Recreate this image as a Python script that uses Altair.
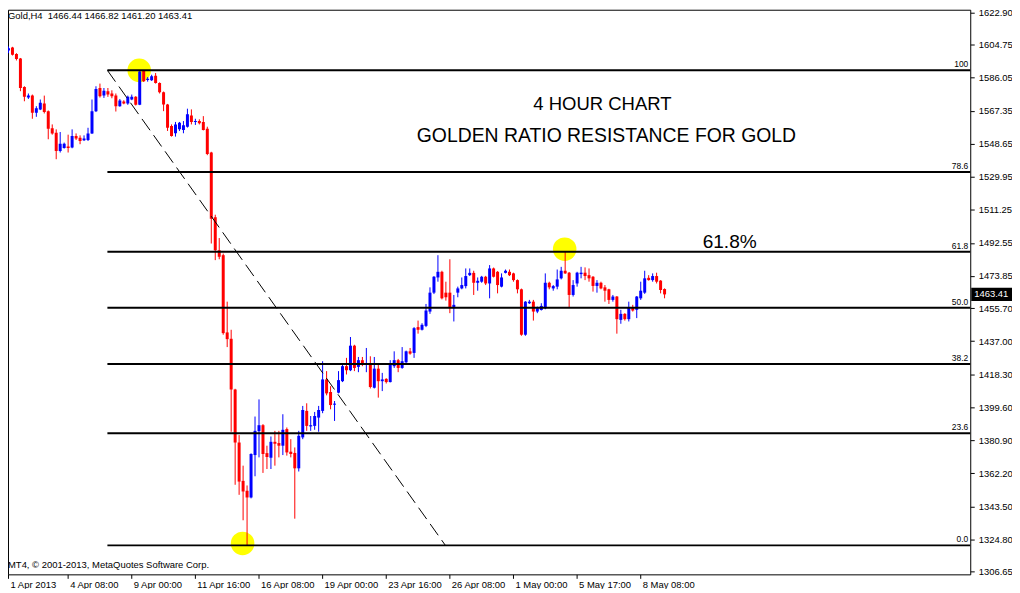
import altair as alt
import pandas as pd

# ---------------- data ----------------
opens = [
    1597.7, 1601.4, 1603.1, 1599.4, 1596.9, 1580.8, 1574.8, 1575.9, 1566.2, 1568.1,
    1571.4, 1567.1, 1557.5, 1554.9, 1544.6, 1546.3, 1547.1, 1546.5, 1553.1, 1552.1,
    1550.6, 1550.8, 1554.5, 1567.1, 1580.2, 1575.9, 1578.4, 1577.1, 1575.9, 1569.9,
    1572.5, 1571.4, 1573.7, 1575.2, 1570.7, 1589.8, 1584.7, 1584.6, 1587.2, 1583.1,
    1577.8, 1570.9, 1558.7, 1554.6, 1556.8, 1556.5, 1558.3, 1564.7, 1561.0, 1561.5,
    1561.0, 1557.2, 1543.7, 1507.1, 1488.4, 1485.6, 1441.9, 1438.3, 1409.6, 1379.6,
    1357.9, 1352.3, 1348.5, 1372.5, 1386.0, 1389.4, 1373.6, 1371.0, 1380.0, 1379.3,
    1377.8, 1387.2, 1374.4, 1373.7, 1365.0, 1382.5, 1397.5, 1388.7, 1389.0, 1393.7,
    1397.5, 1415.3, 1408.2, 1401.0, 1407.8, 1414.3, 1422.8, 1420.5, 1434.4, 1422.4,
    1426.2, 1423.7, 1424.6, 1410.6, 1421.4, 1414.3, 1415.6, 1413.8, 1422.8, 1426.2,
    1421.8, 1425.0, 1431.2, 1430.3, 1444.9, 1443.4, 1445.6, 1453.7, 1464.4, 1473.0,
    1476.2, 1464.4, 1464.4, 1455.6, 1464.4, 1466.8, 1468.1, 1474.3, 1475.6, 1470.0,
    1470.6, 1473.4, 1469.6, 1478.1, 1476.2, 1467.8, 1475.6, 1476.2, 1475.3, 1471.5,
    1466.3, 1440.6, 1458.4, 1459.3, 1453.7, 1454.6, 1455.6, 1470.0, 1466.8, 1467.8,
    1472.5, 1476.8, 1475.7, 1463.1, 1469.6, 1474.9, 1475.7, 1474.3, 1473.4, 1468.2,
    1470.0, 1467.4, 1466.3, 1460.3, 1462.2, 1449.0, 1452.4, 1449.4, 1456.2, 1454.7,
    1461.2, 1464.4, 1472.8, 1471.5, 1473.8, 1471.2, 1466.44,
]
highs = [
    1602.2, 1603.7, 1603.5, 1599.9, 1597.2, 1581.2, 1577.1, 1576.5, 1569.9, 1573.7,
    1575.9, 1567.5, 1559.6, 1556.8, 1555.3, 1549.3, 1553.8, 1556.8, 1554.5, 1553.4,
    1553.4, 1557.7, 1573.7, 1581.2, 1582.7, 1580.2, 1580.2, 1578.9, 1577.1, 1574.0,
    1573.3, 1575.9, 1576.5, 1575.6, 1590.2, 1590.2, 1586.4, 1587.7, 1588.7, 1583.4,
    1578.2, 1571.2, 1559.6, 1561.0, 1561.0, 1561.5, 1568.5, 1568.1, 1562.8, 1562.5,
    1564.3, 1558.3, 1544.1, 1508.5, 1495.3, 1486.5, 1459.3, 1443.4, 1410.0, 1383.8,
    1366.5, 1355.3, 1373.5, 1394.3, 1404.0, 1390.0, 1377.8, 1383.0, 1386.2, 1386.2,
    1395.6, 1388.1, 1381.5, 1376.8, 1386.2, 1400.3, 1401.8, 1394.6, 1396.9, 1400.3,
    1425.6, 1420.0, 1411.5, 1403.1, 1420.0, 1423.7, 1427.5, 1439.3, 1434.9, 1428.0,
    1428.0, 1433.1, 1428.4, 1428.0, 1424.6, 1419.0, 1416.0, 1426.2, 1431.2, 1426.9,
    1433.6, 1431.6, 1433.1, 1444.9, 1448.6, 1447.1, 1458.0, 1467.4, 1473.8, 1485.6,
    1476.8, 1470.6, 1483.3, 1463.1, 1467.8, 1473.0, 1478.1, 1478.1, 1476.8, 1473.0,
    1473.9, 1473.9, 1480.0, 1478.6, 1476.6, 1475.3, 1477.5, 1477.5, 1475.7, 1471.9,
    1466.7, 1459.6, 1460.3, 1460.3, 1456.5, 1458.4, 1475.3, 1470.6, 1468.7, 1477.5,
    1479.0, 1487.8, 1476.1, 1471.5, 1476.2, 1479.0, 1478.7, 1478.1, 1473.8, 1471.5,
    1470.6, 1468.7, 1466.6, 1463.1, 1462.5, 1454.7, 1452.8, 1459.3, 1457.5, 1462.5,
    1470.6, 1476.8, 1474.3, 1475.3, 1475.7, 1471.5, 1466.82,
]
lows = [
    1597.0, 1599.9, 1598.6, 1595.8, 1578.4, 1572.7, 1574.0, 1562.8, 1563.9, 1567.7,
    1565.8, 1551.2, 1553.8, 1539.9, 1543.7, 1545.9, 1543.7, 1546.1, 1550.8, 1548.4,
    1550.2, 1550.2, 1554.2, 1566.6, 1574.8, 1574.6, 1575.2, 1574.4, 1566.9, 1569.6,
    1571.0, 1570.7, 1573.3, 1570.3, 1570.5, 1583.6, 1583.8, 1584.2, 1582.7, 1577.1,
    1567.1, 1555.9, 1552.7, 1552.7, 1555.9, 1554.6, 1557.8, 1559.6, 1559.3, 1559.6,
    1556.2, 1542.2, 1492.2, 1482.8, 1483.3, 1440.6, 1433.6, 1385.7, 1355.7, 1350.0,
    1335.6, 1321.4, 1348.0, 1360.5, 1371.2, 1362.4, 1364.6, 1364.6, 1366.5, 1371.2,
    1372.5, 1372.2, 1371.2, 1336.5, 1363.2, 1381.5, 1386.2, 1386.2, 1386.8, 1385.7,
    1396.2, 1406.3, 1398.4, 1391.8, 1407.4, 1413.8, 1418.1, 1420.0, 1420.0, 1419.4,
    1422.8, 1419.4, 1410.2, 1410.2, 1405.0, 1408.7, 1413.0, 1413.6, 1421.8, 1419.4,
    1421.3, 1424.3, 1429.3, 1427.5, 1441.2, 1443.0, 1444.9, 1452.4, 1463.6, 1470.6,
    1460.6, 1459.9, 1452.8, 1448.1, 1461.8, 1466.3, 1466.8, 1473.8, 1463.1, 1465.5,
    1470.0, 1468.7, 1461.2, 1473.0, 1464.0, 1467.4, 1475.3, 1473.8, 1470.6, 1464.0,
    1440.0, 1440.0, 1458.0, 1448.6, 1452.8, 1454.3, 1455.0, 1466.3, 1465.5, 1466.3,
    1471.9, 1475.0, 1456.2, 1462.2, 1467.8, 1472.5, 1471.5, 1470.6, 1465.0, 1464.4,
    1466.3, 1459.3, 1458.0, 1459.3, 1441.2, 1446.8, 1448.6, 1448.1, 1453.7, 1450.0,
    1460.3, 1463.7, 1471.2, 1470.6, 1469.6, 1464.0, 1461.20,
]
closes = [
    1601.8, 1602.7, 1599.0, 1596.6, 1580.2, 1575.2, 1575.9, 1566.2, 1568.8, 1571.8,
    1566.6, 1557.2, 1554.5, 1544.6, 1548.6, 1548.6, 1546.3, 1553.1, 1551.6, 1550.2,
    1551.7, 1554.5, 1567.1, 1579.7, 1575.6, 1578.7, 1576.5, 1575.6, 1569.9, 1573.1,
    1571.4, 1575.2, 1575.2, 1570.7, 1589.6, 1584.0, 1585.5, 1586.8, 1583.1, 1577.8,
    1570.9, 1557.7, 1553.1, 1559.6, 1560.6, 1559.1, 1565.3, 1561.0, 1561.5, 1560.2,
    1556.5, 1542.8, 1506.2, 1488.4, 1484.7, 1441.5, 1438.1, 1409.6, 1379.6, 1357.5,
    1351.9, 1348.5, 1373.1, 1386.2, 1389.4, 1373.1, 1371.4, 1380.0, 1378.9, 1377.8,
    1386.8, 1374.0, 1373.1, 1365.0, 1383.4, 1398.0, 1389.0, 1389.4, 1394.6, 1398.0,
    1415.3, 1407.4, 1400.8, 1401.6, 1414.9, 1422.8, 1420.5, 1434.4, 1421.8, 1426.2,
    1423.7, 1424.6, 1411.0, 1421.4, 1414.3, 1415.3, 1413.8, 1424.6, 1426.2, 1421.8,
    1425.6, 1431.2, 1429.9, 1444.3, 1443.4, 1446.2, 1454.3, 1464.4, 1473.4, 1476.2,
    1461.2, 1461.8, 1455.6, 1457.5, 1466.8, 1468.7, 1473.8, 1475.6, 1470.0, 1471.1,
    1473.4, 1469.6, 1478.1, 1473.4, 1468.7, 1473.0, 1476.8, 1474.3, 1471.5, 1466.3,
    1440.6, 1459.3, 1459.3, 1453.7, 1455.6, 1456.9, 1470.0, 1467.4, 1468.1, 1471.9,
    1476.8, 1475.3, 1463.1, 1468.7, 1475.7, 1475.7, 1473.8, 1472.5, 1468.2, 1470.0,
    1466.8, 1465.5, 1460.3, 1462.2, 1449.4, 1452.4, 1449.4, 1456.2, 1454.3, 1462.2,
    1465.5, 1472.5, 1471.5, 1473.8, 1470.6, 1465.9, 1463.41,
]

x_tick_index = [0, 16, 32, 48, 64, 80, 96, 112, 128, 144, 160]
x_tick_labels = ["1 Apr 2013", "4 Apr 08:00", "9 Apr 00:00", "11 Apr 16:00",
                 "16 Apr 08:00", "19 Apr 00:00", "23 Apr 16:00", "26 Apr 08:00",
                 "1 May 00:00", "5 May 17:00", "8 May 08:00"]
y_tick_values = [1306.65, 1324.80, 1343.50, 1362.20, 1380.90, 1399.60, 1418.30,
                 1437.00, 1455.70, 1473.85, 1492.55, 1511.25, 1529.95, 1548.65,
                 1567.35, 1586.05, 1604.75, 1622.90]

fib_levels = [0.0, 23.6, 38.2, 50.0, 61.8, 78.6, 100.0]
fib_labels = ["0.0", "23.6", "38.2", "50.0", "61.8", "78.6", "100"]
fib_high = 1590.2
fib_low = 1321.4
fib_start_index = 26
fib_end_index = 111

marker_index = [34, 60, 141]
marker_price = [1590.2, 1322.5, 1489.0]

note_text = ["4 HOUR CHART", "GOLDEN RATIO RESISTANCE FOR GOLD", "61.8%"]
note_index = [150.5, 151.5, 182.5]
note_price = [1571.1, 1553.1, 1492.9]
note_size = [18.6, 19.5, 19.2]

header = "Gold,H4\u00a0 1466.44 1466.82 1461.20 1463.41"
copyright_text = "MT4, \u00a9 2001-2013, MetaQuotes Software Corp."

# ---------------- layout ----------------
W, H = 968, 568
X_DOMAIN = [1, 243]
Y_DOMAIN = [1305.0, 1624.5]
FONT = "Liberation Sans"
UP, DOWN = "#0000ff", "#ff0000"

candles = pd.DataFrame({
    "idx": list(range(len(opens))),
    "open": opens, "high": highs, "low": lows, "close": closes,
})
candles["dir"] = ["up" if c >= o else "down" for o, c in zip(opens, closes)]

label_array = "[" + ",".join("'" + s + "'" for s in x_tick_labels) + "]"
# the first tick sits on the left border of the window: keep it inside the visible domain
axis_x_values = [max(v, X_DOMAIN[0]) for v in x_tick_index]

x_axis = alt.Axis(values=axis_x_values, labelExpr=label_array + "[round(datum.value/16)]",
                  orient="bottom", tickSize=4, labelAlign="left", labelBaseline="top",
                  labelPadding=1, labelOffset=2, labelOverlap=False, labelFlush=False,
                  labelBound=False, domain=False, grid=False, title=None)
y_axis = alt.Axis(values=y_tick_values, format=".2f", orient="right", tickSize=4,
                  labelPadding=4, labelOverlap=False, labelFlush=False, labelBound=False,
                  domain=False, grid=False, title=None)

xs = alt.Scale(domain=X_DOMAIN, nice=False, zero=False, padding=0)
ys = alt.Scale(domain=Y_DOMAIN, nice=False, zero=False, padding=0)


def X(field):
    return alt.X(f"{field}:Q", scale=xs, axis=x_axis)


def Y(field):
    return alt.Y(f"{field}:Q", scale=ys, axis=y_axis)


color = alt.Color("dir:N", scale=alt.Scale(domain=["up", "down"], range=[UP, DOWN]), legend=None)

markers = pd.DataFrame({"idx": marker_index, "price": marker_price})
circles = alt.Chart(markers).mark_circle(color="#ffff00", opacity=1, size=560).encode(
    x=X("idx"), y=Y("price"))

wicks = alt.Chart(candles).mark_rule(strokeWidth=1, xOffset=0.5, clip=True).encode(
    x=X("idx"), y=Y("low"), y2="high", color=color)
bodies = alt.Chart(candles).mark_bar(size=3, xOffset=0.5, clip=True).encode(
    x=X("idx"), y=Y("open"), y2="close", color=color)

fib = pd.DataFrame({
    "level": fib_levels,
    "label": fib_labels,
    "price": [fib_low + lv / 100.0 * (fib_high - fib_low) for lv in fib_levels],
    "x0": [fib_start_index] * len(fib_levels),
    "x1": [X_DOMAIN[1]] * len(fib_levels),
})
fib_lines = alt.Chart(fib).mark_rule(color="black", strokeWidth=2).encode(
    x=X("x0"), x2="x1", y=Y("price"))
fib_text = alt.Chart(fib).mark_text(align="right", baseline="bottom", dx=-2, dy=-1,
                                    font=FONT, fontSize=8.5, color="black").encode(
    x=X("x1"), y=Y("price"), text="label:N")

trend = pd.DataFrame({"idx": [fib_start_index, fib_end_index], "price": [fib_high, fib_low]})
trend_line = alt.Chart(trend).mark_line(color="black", strokeWidth=1, strokeDash=[14, 6]).encode(
    x=X("idx"), y=Y("price"))

notes = pd.DataFrame({"text": note_text, "idx": note_index, "price": note_price, "fs": note_size})
note_marks = alt.Chart(notes).mark_text(font=FONT, color="black",
                                        align="center", baseline="middle").encode(
    x=X("idx"), y=Y("price"), text="text:N", size=alt.Size("fs:Q", scale=None, legend=None))

header_mark = alt.Chart(pd.DataFrame({"t": [header]})).mark_text(
    font=FONT, fontSize=9.5, color="black", align="left", baseline="top").encode(
    x=alt.value(0), y=alt.value(1), text="t:N")
copy_mark = alt.Chart(pd.DataFrame({"t": [copyright_text]})).mark_text(
    font=FONT, fontSize=9.5, color="black", align="left", baseline="middle").encode(
    x=alt.value(0), y=alt.value(H - 9), text="t:N")

last = pd.DataFrame({"price": [closes[-1]], "label": [f"{closes[-1]:.2f}"]})
price_box = alt.Chart(last).transform_calculate(
    top="datum.price + 3.7", bot="datum.price - 3.7").mark_rect(color="black").encode(
    x=alt.value(W + 1), x2=alt.value(W + 42), y=Y("top"), y2="bot:Q")
price_text = alt.Chart(last).mark_text(font=FONT, fontSize=9.5, color="white",
                                       align="left", baseline="middle").encode(
    x=alt.value(W + 4), y=Y("price"), text="label:N")

chart = alt.layer(
    circles, wicks, bodies, fib_lines, fib_text, trend_line, note_marks,
    header_mark, copy_mark, price_box, price_text,
).properties(
    width=W, height=H,
    autosize=alt.AutoSizeParams(type="none"),
    padding={"left": 0, "top": 0, "right": 42, "bottom": 13},
    background="white",
).configure_view(stroke="black", strokeWidth=1).configure_axis(
    labelFont=FONT, labelFontSize=9.5, labelColor="black", tickColor="black", tickWidth=1,
)

chart.save("out.html", embed_options={"renderer": "svg", "actions": False})
